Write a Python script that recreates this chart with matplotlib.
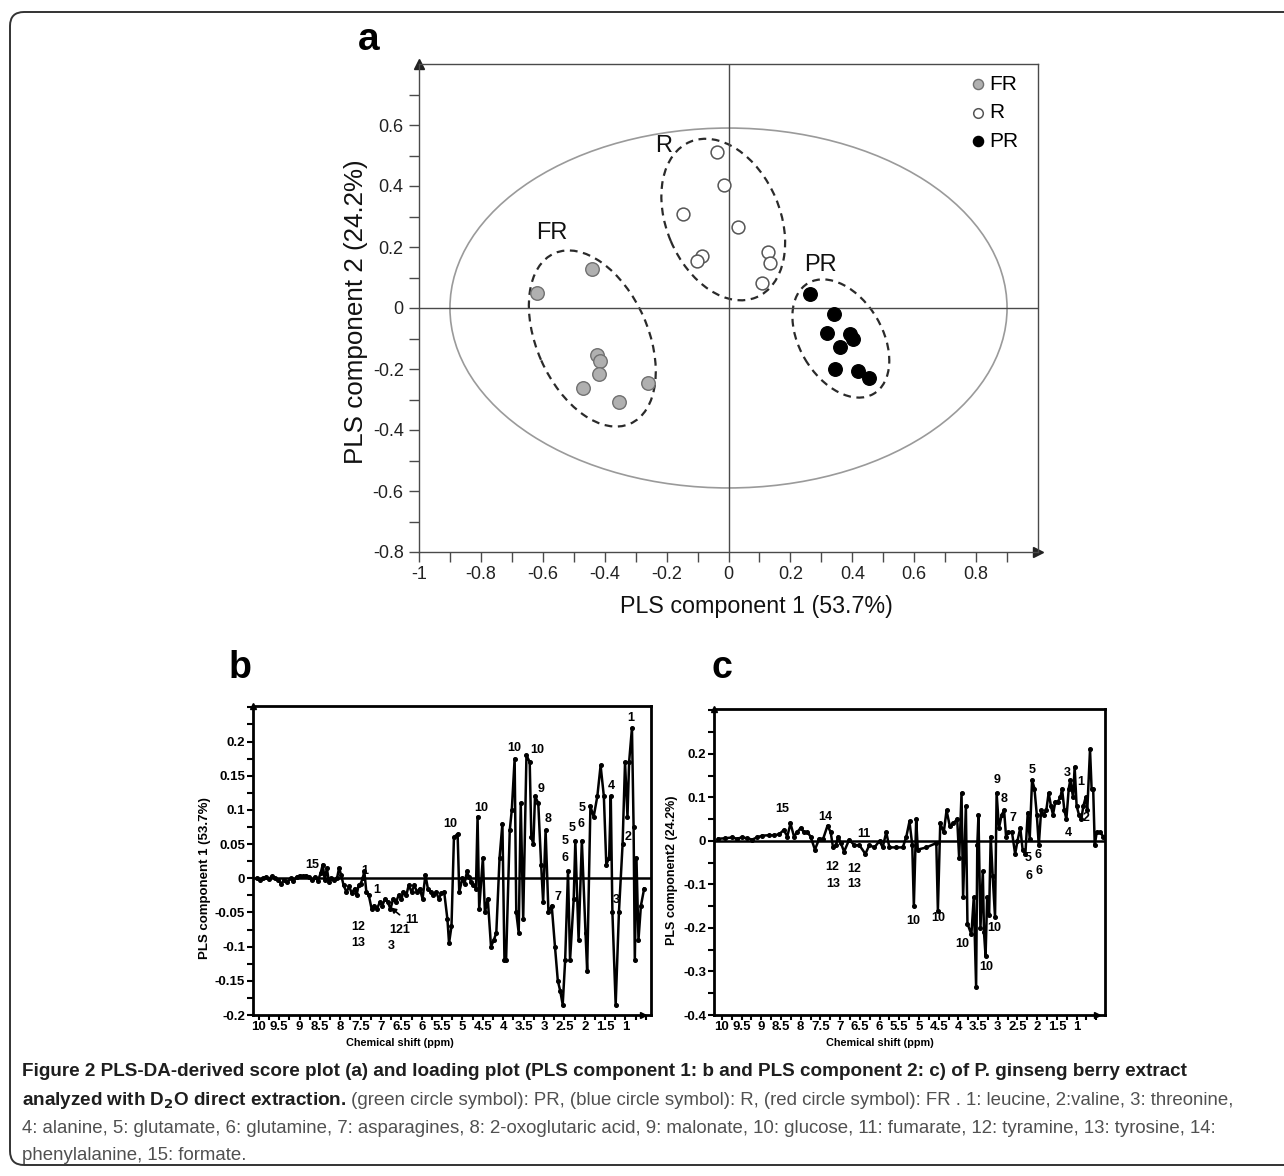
import matplotlib
matplotlib.use('Agg')
import matplotlib.pyplot as plt
from matplotlib.patches import Ellipse, FancyBboxPatch
from matplotlib.transforms import IdentityTransform
from matplotlib import font_manager as fm
import numpy as np


def pick(names):
    for n in names:
        try:
            fm.findfont(fm.FontProperties(family=n), fallback_to_default=False)
            return n
        except ValueError:
            pass
    return 'DejaVu Sans'


SANS = pick(['Liberation Sans', 'Arial'])
NARROW = pick(['Liberation Sans Narrow', 'Liberation Sans'])

# ---------------- panel a : PLS-DA scores ----------------
fr_x = [-0.62, -0.44, -0.426, -0.415, -0.42, -0.469, -0.353, -0.261]
fr_y = [0.05, 0.127, -0.154, -0.173, -0.215, -0.263, -0.309, -0.247]
r_x = [-0.038, -0.013, -0.146, 0.032, -0.086, -0.103, 0.127, 0.135, 0.108]
r_y = [0.512, 0.403, 0.308, 0.267, 0.170, 0.155, 0.185, 0.149, 0.081]
pr_x = [0.262, 0.340, 0.318, 0.392, 0.401, 0.361, 0.343, 0.419, 0.455]
pr_y = [0.046, -0.021, -0.083, -0.086, -0.102, -0.129, -0.201, -0.207, -0.231]

group_names = ['FR', 'R', 'PR']
group_label_x = [-0.57, -0.21, 0.297]
group_label_y = [0.247, 0.53, 0.141]
# confidence ellipses: centre x, centre y, width, height, angle
ell_cx = [-0.44, -0.017, 0.363]
ell_cy = [-0.10, 0.29, -0.10]
ell_w = [0.61, 0.553, 0.42]
ell_h = [0.36, 0.367, 0.268]
ell_ang = [-66.5, -67.4, -60.0]
t2_w, t2_h = 1.80, 1.18

a_xticks = [-1, -0.8, -0.6, -0.4, -0.2, 0, 0.2, 0.4, 0.6, 0.8]
a_xticklabels = ['-1', '-0.8', '-0.6', '-0.4', '-0.2', '0', '0.2', '0.4', '0.6', '0.8']
a_yticks = [-0.8, -0.6, -0.4, -0.2, 0, 0.2, 0.4, 0.6]
a_yticklabels = ['-0.8', '-0.6', '-0.4', '-0.2', '0', '0.2', '0.4', '0.6']

# ---------------- panel b : loadings PLS component 1 ----------------
b_ppm = [10.05, 9.98, 9.9, 9.82, 9.75, 9.68, 9.6, 9.52, 9.45, 9.38,
         9.3, 9.22, 9.15, 9.07, 9.0, 8.92, 8.85, 8.78, 8.7, 8.62,
         8.55, 8.48, 8.43, 8.38, 8.33, 8.28, 8.22, 8.15, 8.08, 8.03,
         7.98, 7.92, 7.85, 7.78, 7.72, 7.65, 7.6, 7.55, 7.5, 7.45,
         7.41, 7.36, 7.3, 7.23, 7.17, 7.1, 7.03, 6.97, 6.9, 6.83,
         6.77, 6.7, 6.63, 6.57, 6.5, 6.45, 6.38, 6.32, 6.25, 6.18,
         6.12, 6.05, 5.98, 5.91, 5.85, 5.78, 5.72, 5.65, 5.58, 5.52,
         5.45, 5.37, 5.33, 5.27, 5.21, 5.12, 5.08, 5.0, 4.95, 4.89,
         4.84, 4.79, 4.73, 4.67, 4.63, 4.59, 4.5, 4.45, 4.38, 4.3,
         4.23, 4.17, 4.09, 4.02, 3.97, 3.93, 3.84, 3.79, 3.72, 3.68,
         3.62, 3.57, 3.51, 3.43, 3.35, 3.31, 3.26, 3.22, 3.14, 3.07,
         3.02, 2.96, 2.89, 2.81, 2.73, 2.66, 2.6, 2.54, 2.48, 2.41,
         2.36, 2.27, 2.23, 2.15, 2.07, 1.98, 1.94, 1.86, 1.78, 1.69,
         1.61, 1.53, 1.47, 1.4, 1.36, 1.32, 1.24, 1.16, 1.07, 1.01,
         0.95, 0.91, 0.84, 0.8, 0.77, 0.73, 0.68, 0.62, 0.54]
b_load = [0.0, -0.002, 0.0, 0.002, -0.001, 0.003, 0.0, -0.003, -0.008, -0.002,
          -0.006, 0.0, -0.004, 0.002, 0.004, 0.003, 0.004, 0.002, -0.003, 0.002,
          -0.004, 0.008, 0.02, -0.003, 0.015, -0.005, 0.0, -0.003, 0.0, 0.015,
          0.005, -0.01, -0.02, -0.012, -0.022, -0.015, -0.025, -0.01, -0.008, 0.0,
          0.01, -0.02, -0.025, -0.045, -0.04, -0.045, -0.035, -0.04, -0.03, -0.035,
          -0.045, -0.03, -0.035, -0.025, -0.03, -0.02, -0.025, -0.01, -0.02, -0.01,
          -0.02, -0.015, -0.03, 0.005, -0.015, -0.02, -0.025, -0.02, -0.03, -0.022,
          -0.02, -0.06, -0.095, -0.07, 0.06, 0.065, -0.02, 0.0, -0.008, 0.01,
          0.002, -0.005, -0.01, -0.015, 0.09, -0.045, 0.03, -0.05, -0.03, -0.1,
          -0.09, -0.08, 0.03, 0.08, -0.12, -0.12, 0.07, 0.1, 0.175, -0.05,
          -0.08, 0.11, -0.06, 0.18, 0.17, 0.06, 0.05, 0.12, 0.11, 0.02,
          -0.035, 0.07, -0.05, -0.04, -0.1, -0.15, -0.165, -0.185, -0.12, 0.01,
          -0.12, -0.03, 0.055, -0.09, 0.055, -0.08, -0.135, 0.105, 0.09, 0.12,
          0.165, 0.12, 0.02, 0.03, 0.12, -0.05, -0.185, -0.05, 0.05, 0.17,
          0.09, 0.17, 0.22, 0.075, -0.12, 0.03, -0.09, -0.04, -0.015]
b_ann_text = ['1', '10', '10', '9', '10', '10', '8', '5', '6', '5', '5', '6', '4', '2',
              '7', '3', '15', '12', '13', '121', '3', '11', '1', '1']
b_ann_x = [0.87, 3.72, 3.17, 3.06, 4.55, 5.31, 2.89, 2.07, 2.08, 2.30, 2.48, 2.48, 1.35, 0.93,
           2.66, 1.22, 8.68, 7.56, 7.56, 6.53, 6.74, 6.24, 7.40, 7.11]
b_ann_y = [0.234, 0.19, 0.187, 0.13, 0.103, 0.079, 0.086, 0.103, 0.08, 0.074, 0.054, 0.03, 0.135, 0.06,
           -0.027, -0.032, 0.02, -0.072, -0.095, -0.075, -0.099, -0.061, 0.011, -0.017]
b_yticks = [-0.2, -0.15, -0.1, -0.05, 0, 0.05, 0.1, 0.15, 0.2]
b_yticklabels = ['-0.2', '-0.15', '-0.1', '-0.05', '0', '0.05', '0.1', '0.15', '0.2']

# ---------------- panel c : loadings PLS component 2 ----------------
c_ppm = [10.09, 9.91, 9.74, 9.62, 9.49, 9.36, 9.23, 9.11, 8.98, 8.81,
         8.68, 8.55, 8.43, 8.34, 8.26, 8.17, 8.09, 8.0, 7.92, 7.83,
         7.75, 7.64, 7.53, 7.43, 7.32, 7.24, 7.18, 7.11, 7.05, 6.98,
         6.9, 6.77, 6.64, 6.51, 6.36, 6.26, 6.13, 6.0, 5.92, 5.83,
         5.75, 5.58, 5.41, 5.32, 5.24, 5.17, 5.13, 5.07, 5.03, 4.81,
         4.56, 4.52, 4.46, 4.37, 4.3, 4.22, 4.13, 4.03, 3.98, 3.92,
         3.88, 3.81, 3.77, 3.67, 3.61, 3.55, 3.52, 3.49, 3.44, 3.38,
         3.35, 3.31, 3.27, 3.22, 3.18, 3.13, 3.07, 3.03, 2.97, 2.9,
         2.84, 2.79, 2.73, 2.64, 2.56, 2.5, 2.43, 2.37, 2.3, 2.24,
         2.19, 2.13, 2.07, 2.01, 1.96, 1.9, 1.84, 1.77, 1.71, 1.65,
         1.6, 1.54, 1.48, 1.41, 1.37, 1.31, 1.26, 1.2, 1.16, 1.09,
         1.05, 1.0, 0.94, 0.88, 0.83, 0.77, 0.73, 0.66, 0.62, 0.58,
         0.54, 0.49, 0.41, 0.32]
c_load = [0.005, 0.006, 0.008, 0.005, 0.008, 0.006, 0.003, 0.008, 0.012, 0.013,
          0.013, 0.015, 0.025, 0.01, 0.04, 0.01, 0.02, 0.03, 0.02, 0.02,
          0.01, -0.02, 0.005, 0.005, 0.035, 0.02, -0.015, -0.01, 0.01, -0.005,
          -0.025, 0.003, -0.01, -0.01, -0.03, -0.01, -0.015, 0.0, -0.015, 0.02,
          -0.015, -0.015, -0.015, 0.01, 0.045, -0.01, -0.15, 0.05, -0.02, -0.015,
          -0.005, -0.16, 0.04, 0.02, 0.07, 0.035, 0.04, 0.05, -0.04, 0.11,
          -0.13, 0.08, -0.19, -0.215, -0.13, -0.335, -0.01, 0.06, -0.2, -0.07,
          -0.21, -0.265, -0.13, -0.17, 0.01, -0.08, -0.175, 0.11, 0.03, 0.06,
          0.07, 0.01, 0.02, 0.02, -0.03, 0.0, 0.03, -0.02, -0.03, 0.065,
          0.005, 0.14, 0.12, 0.06, -0.01, 0.07, 0.06, 0.07, 0.11, 0.08,
          0.06, 0.09, 0.09, 0.1, 0.12, 0.07, 0.05, 0.12, 0.14, 0.1,
          0.17, 0.08, 0.06, 0.05, 0.08, 0.1, 0.07, 0.21, 0.12, 0.12,
          -0.01, 0.02, 0.02, 0.01]
c_ann_text = ['15', '14', '11', '12', '13', '12', '13', '10', '10', '10', '10', '10',
              '9', '8', '7', '5', '3', '1', '2', '4', '5', '6', '6', '6']
c_ann_x = [8.47, 7.38, 6.39, 7.19, 7.18, 6.64, 6.64, 5.14, 4.50, 3.90, 3.30, 3.10,
           3.03, 2.83, 2.62, 2.13, 1.24, 0.90, 0.75, 1.22, 2.22, 2.22, 1.98, 1.96]
c_ann_y = [0.073, 0.056, 0.016, -0.061, -0.099, -0.064, -0.100, -0.183, -0.178, -0.237, -0.289, -0.201,
           0.140, 0.096, 0.052, 0.163, 0.156, 0.136, 0.052, 0.018, -0.040, -0.080, -0.032, -0.070]
c_yticks = [-0.4, -0.3, -0.2, -0.1, 0, 0.1, 0.2]
c_yticklabels = ['-0.4', '-0.3', '-0.2', '-0.1', '0', '0.1', '0.2']

ppm_ticks = [10, 9.5, 9, 8.5, 8, 7.5, 7, 6.5, 6, 5.5, 5, 4.5, 4, 3.5, 3, 2.5, 2, 1.5, 1]
ppm_ticklabels = ['10', '9.5', '9', '8.5', '8', '7.5', '7', '6.5', '6', '5.5', '5',
                  '4.5', '4', '3.5', '3', '2.5', '2', '1.5', '1']

caption_bold_1 = ("Figure 2 PLS-DA-derived score plot (a) and loading plot (PLS component 1: b "
                  "and PLS component 2: c) of P. ginseng berry extract")
caption_bold_2 = r"analyzed with D$_\mathbf{2}$O direct extraction."
caption_reg_2 = (" (green circle symbol): PR, (blue circle symbol): R, (red circle symbol): FR . "
                 "1: leucine, 2:valine, 3: threonine,")
caption_reg_3 = ("4: alanine, 5: glutamate, 6: glutamine, 7: asparagines, 8: 2-oxoglutaric acid, "
                 "9: malonate, 10: glucose, 11: fumarate, 12: tyramine, 13: tyrosine, 14:")
caption_reg_4 = "phenylalanine, 15: formate."

# ---------------------------------------------------------------
W, H = 1284, 1176
fig = plt.figure(figsize=(W / 100, H / 100), dpi=100)
fig.patch.set_facecolor('white')
rend = fig.canvas.get_renderer()


def fx(px):
    return px / W


def fy(py):
    return 1 - py / H


def fit(t, target, vertical=False):
    bb = t.get_window_extent(renderer=rend)
    size = bb.height if vertical else bb.width
    t.set_fontsize(t.get_fontsize() * target / size)


# outer rounded frame
frame = FancyBboxPatch((10, H - 1165), 1310, 1153, boxstyle='round,pad=0,rounding_size=14',
                       transform=IdentityTransform(), fill=False, ec='#333333', lw=1.4)
fig.patches.append(frame)

# ---------------- panel a ----------------
ax = fig.add_axes([fx(419), fy(552), fx(619), 488 / H])
ax.set_xlim(-1, 1.0)
ax.set_ylim(-0.8, 0.8)
grey = '#4a4a4a'
for s in ax.spines.values():
    s.set_color(grey)
    s.set_linewidth(1.0)
ax.axhline(0, color=grey, lw=1.0)
ax.axvline(0, color=grey, lw=1.0)
ax.set_xticks(a_xticks)
ax.set_xticklabels(a_xticklabels)
ax.set_yticks(a_yticks)
ax.set_yticklabels(a_yticklabels)
ax.set_xticks(np.arange(-1, 0.95, 0.1), minor=True)
ax.set_yticks(np.arange(-0.8, 0.75, 0.1), minor=True)
ax.tick_params(which='both', direction='out', length=7, width=1, color=grey,
               labelsize=13, labelcolor='#222222')
ax.tick_params(axis='y', pad=4)
ax.tick_params(axis='x', pad=3)
for lab in ax.get_xticklabels() + ax.get_yticklabels():
    lab.set_family(NARROW)

ax.add_patch(Ellipse((0, 0), t2_w, t2_h, fill=False, ec='#9a9a9a', lw=1.2))
for cx, cy, w, h, ang in zip(ell_cx, ell_cy, ell_w, ell_h, ell_ang):
    ax.add_patch(Ellipse((cx, cy), w, h, angle=ang, fill=False, ec='#2a2a2a',
                         lw=1.6, ls=(0, (3.5, 2.5))))

h_fr = ax.scatter(fr_x, fr_y, s=95, c='#b0b0b0', edgecolors='#707070', linewidths=1, zorder=3, label='FR')
h_r = ax.scatter(r_x, r_y, s=85, c='white', edgecolors='#555555', linewidths=1.1, zorder=3, label='R')
h_pr = ax.scatter(pr_x, pr_y, s=95, c='black', edgecolors='black', linewidths=1, zorder=3, label='PR')
ax.legend(handles=[h_fr, h_r, h_pr], loc='upper left', bbox_to_anchor=(0.873, 0.995),
          frameon=False, handletextpad=0.05, labelspacing=0.45, borderaxespad=0,
          prop={'family': SANS, 'size': 15}, markerscale=0.75, handlelength=1.0,
          scatterpoints=1)

for name, gx, gy in zip(group_names, group_label_x, group_label_y):
    ax.text(gx, gy, name, ha='center', va='center', fontsize=17, family=SANS, color='#111111')

ax.plot([0], [1], marker='^', ms=7, color='#222222', transform=ax.transAxes, clip_on=False)
ax.plot([1], [0], marker='>', ms=7, color='#222222', transform=ax.transAxes, clip_on=False)

fig.text(fx(369), fy(40), 'a', fontsize=28, weight='bold', family=SANS, ha='center', va='center')
tx = fig.text(fx(756), fy(606), 'PLS component 1 (53.7%)', fontsize=18, family=SANS,
              ha='center', va='center', color='#111111')
fit(tx, 273)
ty = fig.text(fx(356), fy(312), 'PLS component 2 (24.2%)', fontsize=18, family=SANS,
              ha='center', va='center', rotation=90, color='#111111')
fit(ty, 305, vertical=True)


# ---------------- panels b and c ----------------
def loading_panel(rect, ppm, load, xlim, ylim, yticks, yticklabels, ystep,
                  ann_t, ann_x, ann_y):
    a = fig.add_axes(rect)
    a.plot(ppm, load, '-o', color='black', lw=1.8, ms=2.6, zorder=3)
    a.axhline(0, color='black', lw=1.8, zorder=2)
    a.set_xlim(*xlim)
    a.set_ylim(*ylim)
    for s in a.spines.values():
        s.set_linewidth(2.0)
        s.set_color('black')
    a.set_yticks(yticks)
    a.set_yticklabels(yticklabels)
    a.set_yticks(np.arange(ylim[0], ylim[1], ystep), minor=True)
    a.set_xticks(ppm_ticks)
    a.set_xticklabels(ppm_ticklabels)
    a.set_xticks(np.arange(10, 0.45, -0.25), minor=True)
    a.tick_params(which='both', direction='out', length=4, width=1.5, labelsize=9.5, pad=1.5)
    a.tick_params(axis='x', which='both', length=3.5, pad=1)
    for lab in a.get_xticklabels() + a.get_yticklabels():
        lab.set_family(NARROW)
        lab.set_weight('bold')
    for t, x, y in zip(ann_t, ann_x, ann_y):
        a.text(x, y, t, ha='center', va='center', fontsize=9, weight='bold',
               family=SANS, zorder=4)
    a.plot([0], [1], marker='^', ms=4.5, color='black', transform=a.transAxes, clip_on=False)
    a.plot([0.98], [0], marker='>', ms=4.5, color='black', transform=a.transAxes, clip_on=False)
    return a


axb = loading_panel([fx(252.7), fy(1015), fx(398), 309 / H], b_ppm, b_load,
                    (10.15, 0.38), (-0.2, 0.252), b_yticks, b_yticklabels, 0.025,
                    b_ann_text, b_ann_x, b_ann_y)
axb.annotate('', xy=(6.82, -0.040), xytext=(6.49, -0.056),
             arrowprops=dict(arrowstyle='-|>', color='black', lw=1.2, mutation_scale=8))
axc = loading_panel([fx(714), fy(1015), fx(391), 306 / H], c_ppm, c_load,
                    (10.2, 0.28), (-0.4, 0.303), c_yticks, c_yticklabels, 0.05,
                    c_ann_text, c_ann_x, c_ann_y)

fig.text(fx(240), fy(668), 'b', fontsize=27, weight='bold', family=SANS, ha='center', va='center')
fig.text(fx(722), fy(668), 'c', fontsize=27, weight='bold', family=SANS, ha='center', va='center')

yb = fig.text(fx(205), fy(878), 'PLS component 1 (53.7%)', fontsize=9, weight='bold',
              family=NARROW, rotation=90, ha='center', va='center')
fit(yb, 163, vertical=True)
yc = fig.text(fx(672), fy(870), 'PLS component2 (24.2%)', fontsize=9, weight='bold',
              family=NARROW, rotation=90, ha='center', va='center')
fit(yc, 150, vertical=True)
for cxp in (400, 880):
    t = fig.text(fx(cxp), fy(1043), 'Chemical shift (ppm)', fontsize=8, weight='bold',
                 family=NARROW, ha='center', va='center')
    fit(t, 108)

# ---------------- caption ----------------
CAP = NARROW
bold_col, reg_col = '#1e1e1e', '#505050'
l1 = fig.text(fx(22), fy(1076), caption_bold_1, fontsize=13, weight='bold', family=CAP,
              color=bold_col, va='baseline', ha='left')
fit(l1, 1162)
bsize = l1.get_fontsize()
l3 = fig.text(fx(22), fy(1133), caption_reg_3, fontsize=13, family=CAP, color=reg_col,
              va='baseline', ha='left')
fit(l3, 1191)
rsize = l3.get_fontsize()
l2b = fig.text(fx(22), fy(1105), caption_bold_2, fontsize=bsize, weight='bold', family=CAP,
               color=bold_col, va='baseline', ha='left')
bb = l2b.get_window_extent(renderer=rend)
fig.text(bb.x1 / W, fy(1105), caption_reg_2, fontsize=rsize, family=CAP, color=reg_col,
         va='baseline', ha='left')
fig.text(fx(22), fy(1160), caption_reg_4, fontsize=rsize, family=CAP, color=reg_col,
         va='baseline', ha='left')

fig.savefig('out.png', dpi=100)
